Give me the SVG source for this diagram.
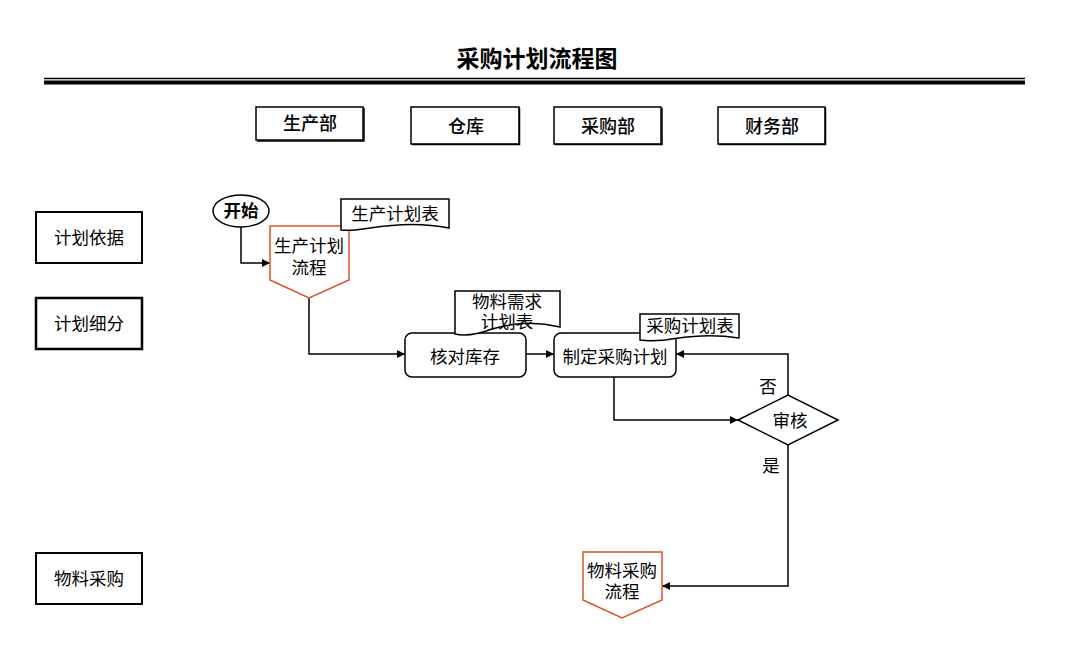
<svg xmlns="http://www.w3.org/2000/svg" width="1081" height="666" viewBox="0 0 1081 666">
<defs>
<style>
text{font-family:"Liberation Sans","Noto Sans CJK SC",sans-serif;font-size:17.5px;fill:#000;text-anchor:middle;dominant-baseline:central}
.b{font-weight:bold}
.h{font-size:18px;font-weight:500}
.box{fill:#fff;stroke:#000;stroke-width:1.5}
.lane{fill:#fff;stroke:#000;stroke-width:2}
.off{fill:#fff;stroke:#d9542b;stroke-width:1.5}
.ln{fill:none;stroke:#000;stroke-width:1.5}
</style>
<marker id="ar" viewBox="0 0 10 10" refX="10" refY="5" markerWidth="8" markerHeight="8" markerUnits="userSpaceOnUse" orient="auto"><path d="M0,0 L10,5 L0,10 Z" fill="#000"/></marker>
</defs>
<rect width="1081" height="666" fill="#fff"/>
<g id="title">
<text x="537" y="59" class="b" style="font-size:23px">采购计划流程图</text>
<line x1="44" y1="78.5" x2="1025" y2="78.5" stroke="#000" stroke-width="1.5"/>
<line x1="44" y1="82.5" x2="1025" y2="82.5" stroke="#000" stroke-width="4"/>
</g>
<g id="dept-production"><rect x="256" y="107" width="107" height="33" class="box"/><polyline points="257,141 364,141 364,108" class="ln"/><text x="310" y="124" class="h">生产部</text></g>
<g id="dept-warehouse"><rect x="411" y="107" width="108" height="37" class="box"/><polyline points="412,144.5 519.5,144.5 519.5,108" class="ln" stroke-width="2"/><text x="466" y="127" class="h">仓库</text></g>
<g id="dept-purchase"><rect x="554" y="107" width="107" height="37" class="box"/><polyline points="555,144.5 662,144.5 662,108" class="ln" stroke-width="2"/><text x="608" y="127" class="h">采购部</text></g>
<g id="dept-finance"><rect x="718" y="107" width="107" height="37" class="box"/><polyline points="719,144.5 825.5,144.5 825.5,108" class="ln" stroke-width="2"/><text x="772" y="127" class="h">财务部</text></g>
<g id="lane-basis"><rect x="36" y="212" width="106" height="51" class="lane"/><text x="89" y="238">计划依据</text></g>
<g id="lane-detail"><rect x="36" y="298" width="106" height="51" class="lane" style="stroke-width:2.5"/><text x="89" y="324">计划细分</text></g>
<g id="lane-purchase"><rect x="36" y="553" width="106" height="51" class="lane"/><text x="89" y="579">物料采购</text></g>
<g id="connectors">
<polyline points="241,227 241,263 270,263" class="ln" marker-end="url(#ar)"/>
<polyline points="309,298 309,354 405,354" class="ln" marker-end="url(#ar)"/>
<line x1="526" y1="354" x2="554" y2="354" class="ln" marker-end="url(#ar)"/>
<polyline points="614,377 614,420 738,420" class="ln" marker-end="url(#ar)"/>
<polyline points="788,395 788,354 676,354" class="ln" marker-end="url(#ar)"/>
<polyline points="788,445 788,586 662,586" class="ln" marker-end="url(#ar)"/>
<text x="768" y="387">否</text>
<text x="771" y="466">是</text>
</g>
<g id="start"><ellipse cx="241" cy="211" rx="28" ry="16" class="box"/><text x="241" y="211" class="b">开始</text></g>
<g id="prod-plan-flow"><path d="M270,226 H349 V280 L309,298 L270,280 Z" class="off"/><text x="309" y="246">生产计划</text><text x="309" y="268">流程</text></g>
<g id="doc-prod-plan"><path d="M341,199 H449 V228 C420,222 395,224 370,228 C358,230 348,231 341,230 Z" class="box"/><text x="395" y="214">生产计划表</text></g>
<g id="check-stock"><rect x="405" y="333" width="121" height="44" rx="7" class="box"/><text x="465" y="357">核对库存</text></g>
<g id="doc-material"><path d="M455,291 H560 V327 C535,321 512,323 492,329 C476,335 463,336 455,334 Z" class="box"/><text x="507" y="302">物料需求</text><text x="507" y="322">计划表</text></g>
<g id="make-plan"><rect x="554" y="333" width="122" height="44" rx="7" class="box"/><text x="615" y="357">制定采购计划</text></g>
<g id="doc-purchase-plan"><path d="M640,314 H739 V338 C712,334 690,336 665,340 C655,341 646,341 640,340 Z" class="box"/><text x="690" y="326">采购计划表</text></g>
<g id="review"><path d="M738,420 L788,395 L838,420 L788,445 Z" class="box"/><text x="790" y="421">审核</text></g>
<g id="material-purchase-flow"><path d="M583,552 H662 V600 L622,618 L583,600 Z" class="off"/><text x="622" y="571">物料采购</text><text x="622" y="592">流程</text></g>
</svg>
